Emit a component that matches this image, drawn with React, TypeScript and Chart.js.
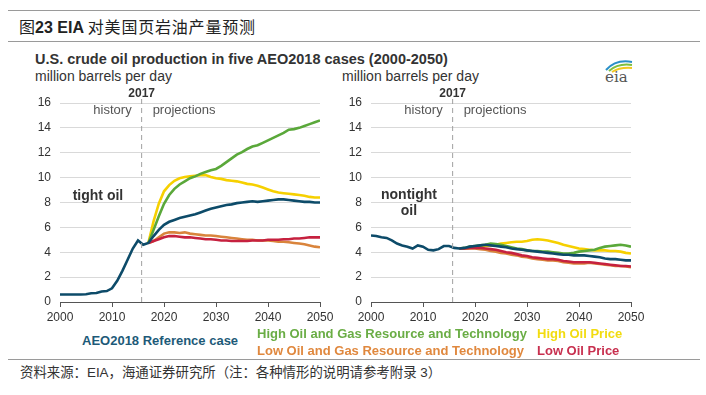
import React, { useEffect, useRef } from "react";
import { Chart, registerables } from "chart.js";

Chart.register(...registerables);

// ---------- data ----------
const allYears = [
  2000, 2001, 2002, 2003, 2004, 2005, 2006, 2007, 2008, 2009,
  2010, 2011, 2012, 2013, 2014, 2015, 2016, 2017, 2018, 2019,
  2020, 2021, 2022, 2023, 2024, 2025, 2026, 2027, 2028, 2029,
  2030, 2031, 2032, 2033, 2034, 2035, 2036, 2037, 2038, 2039,
  2040, 2041, 2042, 2043, 2044, 2045, 2046, 2047, 2048, 2049, 2050,
];
const projYears = allYears.slice(17); // 2017..2050

const xTicks = [2000, 2010, 2020, 2030, 2040, 2050];
const yTicks = [0, 2, 4, 6, 8, 10, 12, 14, 16];

// tight oil (million barrels per day)
const tightReference = [
  0.6, 0.6, 0.6, 0.6, 0.6, 0.62, 0.7, 0.72, 0.85, 0.88,
  1.1, 1.7, 2.5, 3.4, 4.3, 4.95, 4.6, 4.75, 5.3, 5.8,
  6.2, 6.45, 6.6, 6.75, 6.85, 6.95, 7.05, 7.2, 7.35, 7.5,
  7.6, 7.7, 7.8, 7.85, 7.95, 8.0, 8.05, 8.1, 8.05, 8.1,
  8.15, 8.2, 8.25, 8.25, 8.2, 8.15, 8.1, 8.05, 8.05, 8.0, 8.0,
];
const tightHighResource = [
  4.75, 5.8, 6.9, 7.9, 8.6, 9.1, 9.45, 9.7, 9.95, 10.1,
  10.3, 10.45, 10.6, 10.7, 10.95, 11.25, 11.55, 11.85, 12.05, 12.3,
  12.5, 12.6, 12.8, 13.0, 13.2, 13.4, 13.6, 13.85, 13.9, 14.0,
  14.15, 14.3, 14.45, 14.6,
];
const tightHighPrice = [
  4.75, 6.5, 7.9, 8.9, 9.4, 9.75, 9.95, 10.05, 10.1, 10.15,
  10.2, 10.2, 10.05, 9.95, 9.9, 9.8, 9.75, 9.7, 9.6, 9.5,
  9.45, 9.35, 9.2, 9.05, 8.9, 8.8, 8.75, 8.7, 8.65, 8.6,
  8.55, 8.45, 8.4, 8.4,
];
const tightLowResource = [
  4.75, 4.9, 5.2, 5.5, 5.6, 5.6, 5.55, 5.6, 5.5, 5.45,
  5.4, 5.35, 5.35, 5.3, 5.25, 5.2, 5.15, 5.1, 5.05, 5.0,
  5.0, 4.95, 4.95, 4.95, 4.9, 4.85, 4.85, 4.8, 4.75, 4.7,
  4.65, 4.55, 4.45, 4.4,
];
const tightLowPrice = [
  4.75, 4.9, 5.05, 5.2, 5.3, 5.3, 5.25, 5.2, 5.2, 5.15,
  5.1, 5.05, 5.05, 5.0, 4.95, 4.95, 4.9, 4.9, 4.9, 4.9,
  4.95, 4.95, 4.95, 5.0, 5.0, 5.0, 5.05, 5.05, 5.1, 5.1,
  5.15, 5.2, 5.2, 5.2,
];

// nontight oil
const nontightReference = [
  5.35, 5.3, 5.2, 5.15, 4.95, 4.7, 4.55, 4.45, 4.3, 4.55,
  4.45, 4.2, 4.15, 4.25, 4.5, 4.5, 4.35, 4.3, 4.35, 4.45,
  4.5, 4.55, 4.6, 4.55, 4.5, 4.45, 4.4, 4.3, 4.25, 4.2,
  4.15, 4.1, 4.05, 4.0, 3.95, 3.9, 3.85, 3.8, 3.8, 3.75,
  3.75, 3.75, 3.7, 3.65, 3.6, 3.5, 3.45, 3.45, 3.4, 3.35, 3.35,
];
const nontightHighResource = [
  4.3, 4.35, 4.45, 4.5, 4.55, 4.6, 4.7, 4.65, 4.6, 4.5,
  4.4, 4.3, 4.25, 4.15, 4.1, 4.1, 4.05, 4.05, 4.0, 3.95,
  3.9, 3.9, 3.95, 4.05, 4.1, 4.15, 4.2, 4.35, 4.45, 4.5,
  4.55, 4.6, 4.55, 4.45,
];
const nontightHighPrice = [
  4.3, 4.3, 4.35, 4.4, 4.45, 4.5, 4.55, 4.6, 4.7, 4.75,
  4.8, 4.85, 4.85, 4.9, 5.0, 5.05, 5.0, 4.95, 4.85, 4.75,
  4.6, 4.5, 4.4, 4.3, 4.25, 4.2, 4.15, 4.15, 4.15, 4.1,
  4.1, 4.05, 3.95, 3.9,
];
const nontightLowResource = [
  4.3, 4.3, 4.3, 4.3, 4.25, 4.2, 4.1, 4.05, 3.95, 3.9,
  3.8, 3.75, 3.65, 3.6, 3.5, 3.45, 3.4, 3.35, 3.35, 3.3,
  3.2, 3.15, 3.1, 3.1, 3.1, 3.15, 3.1, 3.05, 3.0, 2.95,
  2.9, 2.9, 2.85, 2.8,
];
const nontightLowPrice = [
  4.3, 4.3, 4.35, 4.35, 4.35, 4.3, 4.25, 4.2, 4.1, 4.0,
  3.95, 3.85, 3.75, 3.7, 3.6, 3.55, 3.5, 3.45, 3.45, 3.4,
  3.3, 3.25, 3.2, 3.2, 3.2, 3.2, 3.15, 3.1, 3.05, 3.0,
  2.95, 2.9, 2.9, 2.85,
];

const seriesNames = [
  "AEO2018 Reference case",
  "High Oil and Gas Resource and Technology",
  "High Oil Price",
  "Low Oil and Gas Resource and Technology",
  "Low Oil Price",
];

// ---------- styles ----------
const FONT = '"Liberation Sans", Arial, Helvetica, sans-serif';
const CJK = '"Noto Sans CJK SC", "Noto Sans", sans-serif';
const C_REF = "#0d4b69";
const C_HIGH_RT = "#5aa83a";
const C_HIGH_P = "#f6d000";
const C_LOW_RT = "#d9843c";
const C_LOW_P = "#c6213f";

const pts = (xs: number[], ys: number[]) => ys.map((y, i) => ({ x: xs[i], y }));

type PanelProps = {
  reference: number[];
  highResource: number[];
  highPrice: number[];
  lowResource: number[];
  lowPrice: number[];
  label: string[];
  labelTop: number;
};

function Panel({ reference, highResource, highPrice, lowResource, lowPrice, label, labelTop }: PanelProps) {
  const ref = useRef<HTMLCanvasElement | null>(null);
  useEffect(() => {
    if (!ref.current) return;
    const divider = 2015.7;
    const annot = {
      id: "annot",
      afterDraw(chart: any) {
        const { ctx, chartArea, scales } = chart;
        const xs = scales.x;
        const ys = scales.y;
        const px = xs.getPixelForValue(divider);
        ctx.save();
        ctx.strokeStyle = "#a0a0a0";
        ctx.lineWidth = 1;
        ctx.setLineDash([5, 4]);
        ctx.beginPath();
        ctx.moveTo(px, chartArea.top - 4);
        ctx.lineTo(px, chartArea.bottom);
        ctx.stroke();
        ctx.setLineDash([]);
        ctx.textBaseline = "middle";
        ctx.fillStyle = "#333";
        ctx.font = `bold 12px ${FONT}`;
        ctx.textAlign = "center";
        ctx.fillText("2017", px, chartArea.top - 9);
        ctx.font = `13px ${FONT}`;
        ctx.fillStyle = "#555";
        ctx.textAlign = "right";
        ctx.fillText("history", px - 10, ys.getPixelForValue(15.4));
        ctx.textAlign = "left";
        ctx.fillText("projections", px + 11, ys.getPixelForValue(15.4));
        ctx.font = `bold 14px ${FONT}`;
        ctx.fillStyle = "#333";
        ctx.textAlign = "center";
        const cx = xs.getPixelForValue(2007.3);
        const y0 = ys.getPixelForValue(labelTop);
        label.forEach((t, i) => {
          ctx.fillText(t, cx, y0 + i * 16);
        });
        ctx.restore();
      },
    };
    const ds = (lbl: string, color: string, xs: number[], ys: number[]) => ({
      label: lbl,
      data: pts(xs, ys),
      borderColor: color,
      backgroundColor: color,
      borderWidth: 2.6,
      pointRadius: 0,
      tension: 0,
      fill: false,
    });
    const chart = new Chart(ref.current, {
      type: "line",
      data: {
        datasets: [
          ds(seriesNames[0], C_REF, allYears, reference),
          ds(seriesNames[4], C_LOW_P, projYears, lowPrice),
          ds(seriesNames[3], C_LOW_RT, projYears, lowResource),
          ds(seriesNames[1], C_HIGH_RT, projYears, highResource),
          ds(seriesNames[2], C_HIGH_P, projYears, highPrice),
        ],
      },
      options: {
        animation: false,
        responsive: false,
        events: [],
        layout: { padding: { top: 23, right: 20, bottom: 0, left: 0 } },
        plugins: { legend: { display: false }, tooltip: { enabled: false } },
        scales: {
          x: {
            type: "linear",
            min: xTicks[0],
            max: xTicks[xTicks.length - 1],
            afterFit: (s: any) => {
              s.height = 28;
            },
            afterBuildTicks: (s: any) => {
              s.ticks = xTicks.map((v) => ({ value: v }));
            },
            ticks: {
              color: "#333",
              font: { family: FONT, size: 12 },
              padding: 3,
              maxRotation: 0,
              callback: (v: any) => String(v),
            },
            grid: { display: true, drawOnChartArea: false, drawTicks: true, tickLength: 5, color: "#555" },
            border: { display: true, color: "#555", width: 1 },
          },
          y: {
            min: yTicks[0],
            max: yTicks[yTicks.length - 1],
            afterFit: (s: any) => {
              s.width = 40;
            },
            afterBuildTicks: (s: any) => {
              s.ticks = yTicks.map((v) => ({ value: v }));
            },
            ticks: { color: "#333", font: { family: FONT, size: 12 }, padding: 9 },
            grid: { color: "#d9d9d9", drawTicks: false, lineWidth: 1 },
            border: { display: false },
          },
        },
      },
      plugins: [annot],
    } as any);
    return () => chart.destroy();
  }, []);
  return <canvas ref={ref} width={320} height={250} />;
}

function Text({ x, y, size, children, style }: any) {
  return (
    <div
      style={{
        position: "absolute",
        left: x,
        top: y - size * 0.6,
        fontSize: size,
        lineHeight: `${size * 1.2}px`,
        whiteSpace: "nowrap",
        fontFamily: FONT,
        ...style,
      }}
    >
      {children}
    </div>
  );
}

export default function App() {
  return (
    <div
      style={{
        position: "fixed",
        left: 0,
        top: 0,
        width: 706,
        height: 395,
        background: "#fff",
        overflow: "hidden",
        fontFamily: FONT,
      }}
    >
      <div style={{ position: "absolute", left: 8, top: 10, width: 692, height: 0, borderTop: "1.5px solid #9a9a9a" }} />
      <Text x={19} y={27} size={16} style={{ color: "#222" }}>
        <span style={{ fontFamily: CJK }}>图</span>
        <span style={{ fontWeight: "bold" }}>23 EIA </span>
        <span style={{ fontFamily: CJK, letterSpacing: 0.8 }}>对美国页岩油产量预测</span>
      </Text>
      <div style={{ position: "absolute", left: 8, top: 41, width: 692, height: 0, borderTop: "1.5px solid #9a9a9a" }} />

      <Text x={35} y={60} size={14.5} style={{ fontWeight: "bold", color: "#333" }}>
        U.S. crude oil production in five AEO2018 cases (2000-2050)
      </Text>
      <Text x={35} y={76} size={14} style={{ color: "#333" }}>
        million barrels per day
      </Text>
      <Text x={342} y={76} size={14} style={{ color: "#333" }}>
        million barrels per day
      </Text>

      <svg style={{ position: "absolute", left: 600, top: 56 }} width={40} height={30}>
        <path d="M6 14 Q16 3 32 6" stroke="#2a8fc8" strokeWidth={2} fill="none" />
        <path d="M9 15 Q18 7 32 9" stroke="#7fbf3f" strokeWidth={2} fill="none" />
        <path d="M12 16 Q20 11 32 12" stroke="#f2c81f" strokeWidth={2} fill="none" />
        <text x={5} y={26} fontFamily='"DejaVu Serif", "Liberation Serif", serif' fontSize={15} fill="#555">
          eia
        </text>
      </svg>

      <div style={{ position: "absolute", left: 20, top: 80 }}>
        <Panel
          reference={tightReference}
          highResource={tightHighResource}
          highPrice={tightHighPrice}
          lowResource={tightLowResource}
          lowPrice={tightLowPrice}
          label={["tight oil"]}
          labelTop={8.5}
        />
      </div>
      <div style={{ position: "absolute", left: 331, top: 80 }}>
        <Panel
          reference={nontightReference}
          highResource={nontightHighResource}
          highPrice={nontightHighPrice}
          lowResource={nontightLowResource}
          lowPrice={nontightLowPrice}
          label={["nontight", "oil"]}
          labelTop={8.6}
        />
      </div>

      <Text x={82} y={341} size={13} style={{ fontWeight: "bold", color: "#1d5a78" }}>
        {seriesNames[0]}
      </Text>
      <Text x={257} y={334} size={13} style={{ fontWeight: "bold", color: "#6aad45" }}>
        {seriesNames[1]}
      </Text>
      <Text x={537} y={334} size={13} style={{ fontWeight: "bold", color: "#f2dc10" }}>
        {seriesNames[2]}
      </Text>
      <Text x={257} y={351} size={13} style={{ fontWeight: "bold", color: "#e0883e" }}>
        {seriesNames[3]}
      </Text>
      <Text x={537} y={351} size={13} style={{ fontWeight: "bold", color: "#c8304f" }}>
        {seriesNames[4]}
      </Text>

      <div style={{ position: "absolute", left: 8, top: 359, width: 692, height: 0, borderTop: "1.5px solid #9a9a9a" }} />
      <Text x={20} y={371} size={13.4} style={{ color: "#333" }}>
        <span style={{ fontFamily: CJK }}>资料来源：</span>
        <span>EIA</span>
        <span style={{ fontFamily: CJK }}>，海通证券研究所（注：各种情形的说明请参考附录</span>
        <span> 3</span>
        <span style={{ fontFamily: CJK }}>）</span>
      </Text>
    </div>
  );
}
